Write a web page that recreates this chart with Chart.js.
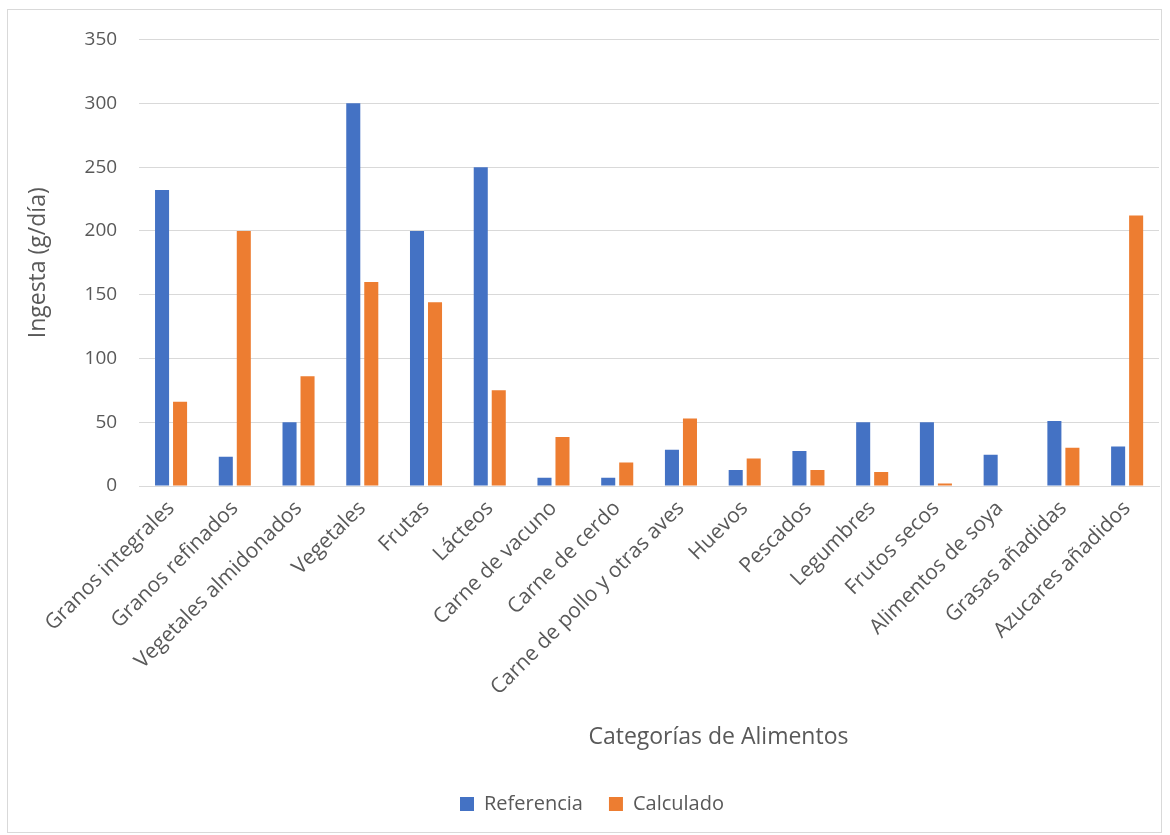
<!DOCTYPE html>
<html lang="es">
<head>
<meta charset="utf-8">
<title>Ingesta por categoría de alimentos</title>
<script src="https://cdn.jsdelivr.net/npm/chart.js@4.4.1/dist/chart.umd.min.js"></script>
<style>
  html, body { margin: 0; padding: 0; background: #ffffff; }
  #frame {
    position: absolute; left: 7px; top: 9px;
    width: 1155px; height: 824px;
    border: 1px solid #d9d9d9; box-sizing: border-box;
  }
  #chart { display: block; }
</style>
</head>
<body>
<div id="frame"><canvas id="chart" width="1153" height="822"></canvas></div>
<script>
// Food categories on the x axis
const categories = [
  "Granos integrales", "Granos refinados", "Vegetales almidonados", "Vegetales",
  "Frutas", "Lácteos", "Carne de vacuno", "Carne de cerdo",
  "Carne de pollo y otras aves", "Huevos", "Pescados", "Legumbres",
  "Frutos secos", "Alimentos de soya", "Grasas añadidas", "Azucares añadidos"
];

// Intake in g/día
const referencia = [232, 23, 50, 300, 200, 250, 6.5, 6.5, 28.5, 12.5, 27.5, 50, 50, 24.5, 51, 31];
const calculado  = [66, 200, 86, 160, 144, 75, 38.5, 18.5, 53, 21.5, 12.5, 11, 2, 0, 30, 212];

// Y axis ticks
const yTicks = [0, 50, 100, 150, 200, 250, 300, 350];

const textColor = "#595959";
const gridColor = "#d9d9d9";
const fontFamily = "'Open Sans', Lato, sans-serif";

// Draws the x axis title between the category labels and the legend
const xTitlePlugin = {
  id: "xTitle",
  afterDraw(chart) {
    const { ctx, chartArea, legend } = chart;
    ctx.save();
    ctx.fillStyle = textColor;
    ctx.font = "23px " + fontFamily;
    ctx.textAlign = "center";
    ctx.textBaseline = "middle";
    const cx = chartArea.left + (chartArea.right - chartArea.left) * 0.568;
    const legendMid = legend.top + legend.height / 2;
    ctx.fillText("Categorías de Alimentos", cx, legendMid - 59);
    ctx.restore();
  }
};

new Chart(document.getElementById("chart"), {
  type: "bar",
  data: {
    labels: categories,
    datasets: [
      { label: "Referencia", data: referencia, backgroundColor: "#4472C4",
        categoryPercentage: 0.565, barPercentage: 0.78 },
      { label: "Calculado", data: calculado, backgroundColor: "#ED7D31",
        categoryPercentage: 0.565, barPercentage: 0.78 }
    ]
  },
  options: {
    responsive: false,
    animation: false,
    layout: { padding: { top: 8, left: 17, right: 2, bottom: 8 } },
    plugins: {
      legend: {
        position: "bottom",
        labels: {
          color: textColor,
          font: { family: fontFamily, size: 20 },
          boxWidth: 14, boxHeight: 14, padding: 26
        }
      },
      tooltip: { enabled: false }
    },
    scales: {
      x: {
        grid: { display: false, drawTicks: false },
        border: { display: true, color: gridColor },
        ticks: {
          color: textColor,
          font: { family: fontFamily, size: 21 },
          minRotation: 45, maxRotation: 45, padding: 10, autoSkip: false
        },
        afterFit(scale) { scale.height = 282; }
      },
      y: {
        min: 0, max: 350,
        afterBuildTicks(scale) { scale.ticks = yTicks.map(v => ({ value: v })); },
        grid: { color: gridColor, drawTicks: false },
        border: { display: false },
        ticks: {
          color: textColor,
          font: { family: fontFamily, size: 19, lineHeight: 0.8 },
          padding: 22
        },
        title: {
          display: true, text: "Ingesta (g/día)",
          color: textColor,
          font: { family: fontFamily, size: 23 },
          padding: { top: 0, bottom: 10 }
        }
      }
    }
  },
  plugins: [xTitlePlugin]
});
</script>
</body>
</html>
